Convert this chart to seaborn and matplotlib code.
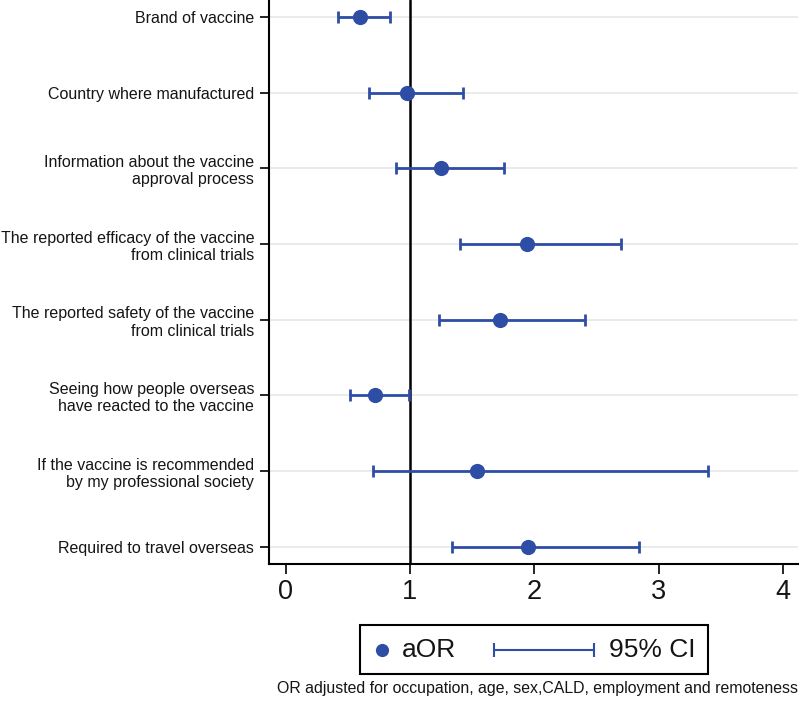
import numpy as np
import pandas as pd
import matplotlib
matplotlib.use("Agg")
import matplotlib.pyplot as plt
import seaborn as sns
from matplotlib.lines import Line2D
from matplotlib.offsetbox import AnchoredOffsetbox, HPacker, TextArea, DrawingArea

# factors (top to bottom), adjusted odds ratios and 95% CI
factors = [
    "Brand of vaccine",
    "Country where manufactured",
    "Information about the vaccine\napproval process",
    "The reported efficacy of the vaccine\nfrom clinical trials",
    "The reported safety of the vaccine\nfrom clinical trials",
    "Seeing how people overseas\nhave reacted to the vaccine",
    "If the vaccine is recommended\nby my professional society",
    "Required to travel overseas",
]
aor = [0.60, 0.98, 1.25, 1.94, 1.72, 0.72, 1.54, 1.95]
ci_low = [0.42, 0.67, 0.89, 1.40, 1.23, 0.52, 0.70, 1.34]
ci_high = [0.84, 1.43, 1.76, 2.70, 2.41, 0.99, 3.40, 2.84]
xticks = [0, 1, 2, 3, 4]
note = "OR adjusted for occupation, age, sex,CALD, employment and remoteness"

df = pd.DataFrame({"factor": factors, "aor": aor, "lo": ci_low, "hi": ci_high})
df["pos"] = np.arange(len(df))

sns.set_style("white")
plt.rcParams["font.family"] = ["Liberation Sans", "DejaVu Sans"]
plt.rcParams["text.color"] = "#151515"
plt.rcParams["xtick.color"] = "#151515"
plt.rcParams["ytick.color"] = "#151515"

blue = "#2e4da5"

fig = plt.figure(figsize=(8, 7.03), dpi=100)
ax = fig.add_axes([0.336, 0.198, 0.6615, 0.802])

ax.axvline(1, color="black", lw=1.8, zorder=2)
ax.errorbar(df["aor"], df["pos"],
            xerr=[df["aor"] - df["lo"], df["hi"] - df["aor"]],
            fmt="none", ecolor=blue, elinewidth=2, capsize=4.5, capthick=2, zorder=3)
sns.scatterplot(data=df, x="aor", y="pos", s=120, color=blue, linewidth=0,
                zorder=4, ax=ax, legend=False)

ax.set_xlim(-0.135, 4.12)
ax.set_ylim(len(df) - 1 + 0.225, -0.225)
ax.set_xticks(xticks)
ax.set_yticks(df["pos"])
ax.set_yticklabels(df["factor"], linespacing=1.2)
ax.set_xlabel("")
ax.set_ylabel("")
ax.yaxis.grid(True, color="#e8e8e8", lw=1.2)
ax.xaxis.grid(False)
ax.set_axisbelow(True)

for s in ["top", "right"]:
    ax.spines[s].set_visible(False)
for s in ["left", "bottom"]:
    ax.spines[s].set_color("black")
    ax.spines[s].set_linewidth(1.5)

ax.tick_params(axis="x", labelsize=19.5, length=7, width=1.2, direction="out",
               color="black", pad=4, bottom=True)
ax.tick_params(axis="y", labelsize=11.5, length=6.5, width=1.2, direction="out",
               color="black", pad=4, left=True)

# legend box in Stata style
da1 = DrawingArea(14, 26, 0, 0)
da1.add_artist(Line2D([7], [13], marker="o", ms=9.5, color=blue, mew=0))
t1 = TextArea("aOR", textprops=dict(size=19))
da2 = DrawingArea(72, 26, 0, 0)
da2.add_artist(Line2D([0, 72], [13, 13], color=blue, lw=1.5))
da2.add_artist(Line2D([0, 72], [13, 13], color=blue, lw=0, marker="|", ms=10, mew=1.5))
t2 = TextArea("95% CI", textprops=dict(size=19))
inner = HPacker(children=[HPacker(children=[da1, t1], sep=7, align="center"),
                         HPacker(children=[da2, t2], sep=11, align="center")],
                sep=27, align="center", pad=0)
box = HPacker(children=[DrawingArea(4.5, 1, 0, 0), inner, DrawingArea(4.5, 1, 0, 0)],
              sep=0, align="center", pad=0)
leg = AnchoredOffsetbox(loc="center", child=box, pad=0.45, borderpad=0, frameon=True,
                        bbox_to_anchor=(0.6675, 0.076), bbox_transform=fig.transFigure)
leg.patch.set_boxstyle("square", pad=0)
leg.patch.set_edgecolor("black")
leg.patch.set_linewidth(1.5)
fig.add_artist(leg)

fig.text(0.9975, 0.021, note, ha="right", va="center", fontsize=11.4)

fig.savefig("out.png", dpi=100)
